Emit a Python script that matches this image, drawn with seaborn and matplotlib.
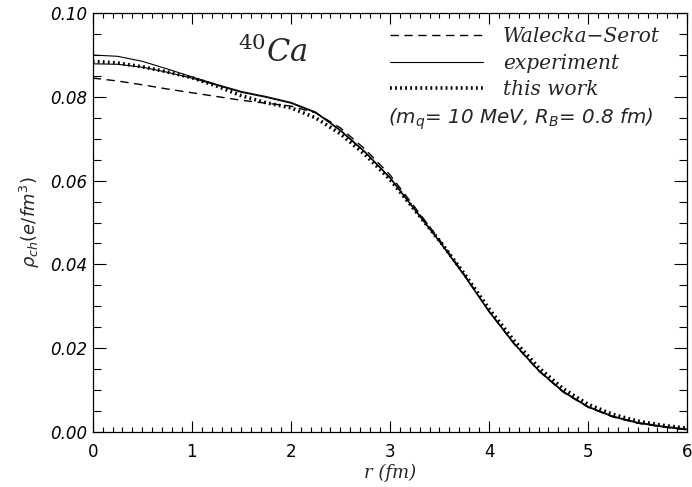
import matplotlib
matplotlib.use("Agg")
import matplotlib.pyplot as plt
import matplotlib.ticker as mticker
from matplotlib.lines import Line2D
import pandas as pd
import seaborn as sns

# Radius grid (fm) and charge densities
r = [0.00, 0.25, 0.50, 0.75, 1.00, 1.25, 1.50, 1.75, 2.00, 2.25, 2.50, 2.75,
     3.00, 3.25, 3.50, 3.75, 4.00, 4.25, 4.50, 4.75, 5.00, 5.25, 5.50, 5.75, 6.00]

# experiment is drawn as a thin band (upper and lower edge)
exp_hi = [0.0900, 0.0897, 0.0885, 0.0867, 0.0848, 0.0830, 0.0813, 0.0801, 0.0787,
          0.0764, 0.0721, 0.0669, 0.0608, 0.0532, 0.0456, 0.0375, 0.0289, 0.0213,
          0.0148, 0.0097, 0.0061, 0.0038, 0.0023, 0.0014, 0.0007]
exp_lo = [0.0879, 0.0878, 0.0871, 0.0859, 0.0845, 0.0828, 0.0811, 0.0799, 0.0785,
          0.0762, 0.0719, 0.0667, 0.0606, 0.0530, 0.0454, 0.0373, 0.0287, 0.0211,
          0.0146, 0.0095, 0.0059, 0.0036, 0.0021, 0.0012, 0.0005]
walecka = [0.0845, 0.0838, 0.0829, 0.0819, 0.0810, 0.0801, 0.0792, 0.0785, 0.0778,
           0.0762, 0.0726, 0.0675, 0.0614, 0.0537, 0.0459, 0.0376, 0.0288, 0.0211,
           0.0146, 0.0095, 0.0059, 0.0036, 0.0021, 0.0012, 0.0005]
this_work = [0.0885, 0.0881, 0.0872, 0.0860, 0.0846, 0.0826, 0.0803, 0.0786, 0.0774,
             0.0750, 0.0712, 0.0662, 0.0603, 0.0530, 0.0457, 0.0378, 0.0294, 0.0219,
             0.0154, 0.0103, 0.0066, 0.0042, 0.0026, 0.0016, 0.0009]

x_ticks = [0, 1, 2, 3, 4, 5, 6]
y_ticks = [0.00, 0.02, 0.04, 0.06, 0.08, 0.10]

sns.set_style("ticks")
plt.rcParams["font.family"] = ["DejaVu Sans"]
plt.rcParams["mathtext.fontset"] = "dejavusans"

data = pd.DataFrame({"r": r, "exp_hi": exp_hi, "exp_lo": exp_lo,
                     "walecka": walecka, "this_work": this_work})

fig = plt.figure(figsize=(6.92, 4.87), dpi=100)
ax = fig.add_axes([0.134, 0.113, 0.859, 0.860])

sns.lineplot(data=data, x="r", y="walecka", ax=ax, color="black", lw=1.0,
             linestyle=(0, (6, 4)))
sns.lineplot(data=data, x="r", y="exp_hi", ax=ax, color="black", lw=0.8)
sns.lineplot(data=data, x="r", y="exp_lo", ax=ax, color="black", lw=0.8)
sns.lineplot(data=data, x="r", y="this_work", ax=ax, color="black", lw=2.6,
             linestyle=(0, (0.5, 0.9)))

ax.set_xlim(0, 6)
ax.set_ylim(0, 0.10)
ax.set_xticks(x_ticks)
ax.set_yticks(y_ticks)
ax.set_xticklabels([str(t) for t in x_ticks], fontsize=12)
ax.set_yticklabels([f"{t:.2f}" for t in y_ticks], fontsize=12, style="italic")
ax.xaxis.set_minor_locator(mticker.MultipleLocator(0.1))
ax.yaxis.set_minor_locator(mticker.MultipleLocator(0.005))
ax.tick_params(axis="both", which="both", direction="in", top=True, right=True,
               width=0.8, colors="black")
ax.tick_params(axis="x", which="major", length=8, pad=8)
ax.tick_params(axis="x", which="minor", length=3.5)
ax.tick_params(axis="y", which="major", length=9.5, pad=4)
ax.tick_params(axis="y", which="minor", length=5.5)
for s in ax.spines.values():
    s.set_linewidth(0.9)
    s.set_color("black")

ax.set_xlabel("r (fm)", family="DejaVu Serif", style="italic", fontsize=13,
              labelpad=2)
ax.set_ylabel(r"$\rho_{ch}(e/fm^3)$", fontsize=13, labelpad=6)

ax.text(0.303, 0.884, r"$^{40}Ca$", transform=ax.transAxes, ha="center",
        va="baseline", fontsize=22, math_fontfamily="dejavuserif")

handles = [
    Line2D([], [], color="black", lw=1.0, linestyle=(0, (6, 4))),
    Line2D([], [], color="black", lw=0.8),
    Line2D([], [], color="black", lw=2.6, linestyle=(0, (0.5, 0.9))),
]
labels = ["Walecka\u2212Serot", "experiment", "this work"]
ax.legend(handles, labels, loc="upper left", bbox_to_anchor=(0.48, 0.995),
          frameon=False, handlelength=4.6, handletextpad=1.0, labelspacing=0.36,
          borderaxespad=0.2, prop={"family": "DejaVu Serif", "style": "italic",
                                   "size": 14.5})
ax.text(0.497, 0.735, r"($m_q$= 10 MeV, $R_B$= 0.8 fm)", transform=ax.transAxes,
        ha="left", va="baseline", fontsize=14.3, style="italic")

fig.savefig("out.png", dpi=100)
